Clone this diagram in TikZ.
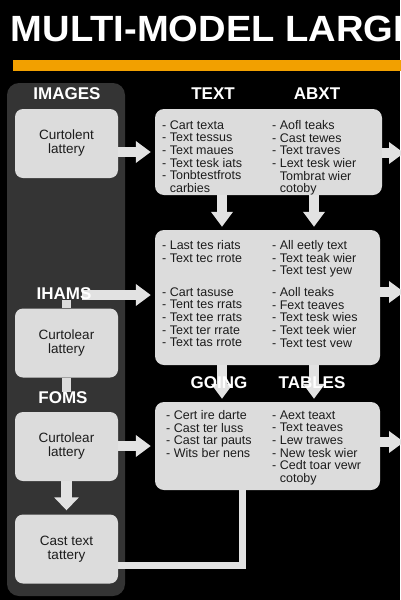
\documentclass[tikz,border=0pt]{standalone}
\usepackage{fontspec}
\setmainfont{Liberation Sans}
\usetikzlibrary{arrows.meta}
\definecolor{panel}{HTML}{343434}
\definecolor{boxc}{HTML}{DCDCDC}
\definecolor{arrc}{HTML}{E2E2E2}
\definecolor{ink}{HTML}{1C1C1C}
\definecolor{orng}{HTML}{F2A000}
\begin{document}
\begin{tikzpicture}[x=1pt,y=-1pt,
  lbox/.style={fill=boxc, rounded corners=8pt, minimum width=103pt, minimum height=69pt, inner sep=0pt, align=center, text=ink, font=\fontsize{13.5}{14}\selectfont},
  rbox/.style={fill=boxc, rounded corners=9pt, inner sep=0pt},
  hdr/.style={text=white, font=\bfseries\fontsize{17}{18}\selectfont, inner sep=0pt},
  col/.style={anchor=north west, align=left, inner sep=0pt, text=ink, font=\fontsize{12.5}{12.65}\selectfont},
  barrow/.style={draw=arrc, line width=10pt, -{Triangle[width=21pt,length=15pt]}},
  darrow/.style={draw=arrc, line width=11pt, -{Triangle[width=24pt,length=13pt]}},
  bline/.style={draw=arrc, line width=7pt},
  vlink/.style={draw=boxc, line width=9pt},
]
\useasboundingbox (0,0) rectangle (400,600);
\fill[black] (0,0) rectangle (400,600);

% title
\node[anchor=base west, inner sep=0pt, text=white, xscale=1.045, font=\bfseries\fontsize{36.5}{40}\selectfont] (title) at (10.5,41) {MULTI-MODEL LARGE};
\fill[orng] (13,60) rectangle (402,71);

% left panel
\fill[panel, rounded corners=12pt] (7,83) rectangle (125,596);

% left boxes
\node[lbox] (b1) at (66.5,143.5) {Curtolent\\lattery};
\node[lbox] (b2) at (66.5,343) {Curtolear\\lattery};
\node[lbox] (b3) at (66.5,446.5) {Curtolear\\lattery};
\node[lbox] (b4) at (66.5,549) {Cast text\\tattery};

% right boxes
\node[rbox, minimum width=227pt, minimum height=86pt] (r1) at (268.5,152) {};
\node[rbox, minimum width=225pt, minimum height=135pt] (r2) at (267.5,297.5) {};
\node[rbox, minimum width=225pt, minimum height=88pt] (r3) at (267.5,446) {};

% helper coordinates
\coordinate (cA) at (222,0);
\coordinate (cB) at (314,0);
\coordinate (ia) at (82,295);
\coordinate (k1) at (242,565);
\coordinate (o1) at (404,153);
\coordinate (o2) at (404,292);
\coordinate (o3) at (404,442);

% connectors
\draw[barrow, shorten >=4pt] (b1.east |- r1.west) -- (r1.west);
\draw[barrow, shorten >=4pt] (ia) -- (ia -| r2.west);
\draw[barrow, shorten >=4pt] (b3.east |- r3.west) -- (r3.west);
\draw[barrow] (r1.east |- o1) -- (o1);
\draw[barrow] (r2.east |- o2) -- (o2);
\draw[barrow] (r3.east |- o3) -- (o3);
\draw[barrow, shorten >=3pt] (r1.south -| cA) -- (r2.north -| cA);
\draw[barrow, shorten >=3pt] (r1.south -| cB) -- (r2.north -| cB);
\draw[barrow, shorten >=3pt] (r2.south -| cA) -- (r3.north -| cA);
\draw[barrow, shorten >=3pt] (r2.south -| cB) -- (r3.north -| cB);
\draw[darrow, shorten >=4pt] (b3.south) -- (b4.north);
\draw[bline] (b4.east |- k1) -- (k1) -- (k1 |- r3.south);

% headers
\node[hdr] (himg) at (67,94) {IMAGES};
\node[hdr] (ihams) at (64,294) {IHAMS};
\node[hdr] (foms) at (63,398) {FOMS};
\node[hdr] (htext) at (213,94) {TEXT};
\node[hdr] (habxt) at (317,94) {ABXT};
\node[hdr] (hgoing) at (219,383) {GOING};
\node[hdr] (htables) at (312,383) {TABLES};

\draw[vlink] (ihams.south -| b2.north) -- (b2.north);
\draw[vlink] (b2.south) -- (foms.north -| b2.south);

% R1 text
\node[col] (r1l) at (162,120.3) {- Cart texta\\- Text tessus\\- Text maues\\- Text tesk iats\\- Tonbtestfrots\\\hphantom{- }carbies};
\node[col] (r1r) at (272,120.3) {- Aofl teaks\\- Cast tewes\\- Text traves\\- Lext tesk wier\\\hphantom{- }Tombrat wier\\\hphantom{- }cotoby};

% R2 text
\node[col] (r2la) at (162,240.3) {- Last tes riats\\- Text tec rrote};
\node[col] (r2ra) at (272,240.3) {- All eetly text\\- Text teak wier\\- Text test yew};
\node[col] (r2lb) at (162,287.3) {- Cart tasuse\\- Tent tes rrats\\- Text tee rrats\\- Text ter rrate\\- Text tas rrote};
\node[col] (r2rb) at (272,287.3) {- Aoll teaks\\- Fext teaves\\- Text tesk wies\\- Text teek wier\\- Text test vew};

% R3 text
\node[col] (r3l) at (166,410.3) {- Cert ire darte\\- Cast ter luss\\- Cast tar pauts\\- Wits ber nens};
\node[col] (r3r) at (272,410.3) {- Aext teaxt\\- Text teaves\\- Lew trawes\\- New tesk wier\\- Cedt toar vewr\\\hphantom{- }cotoby};
\end{tikzpicture}
\end{document}
